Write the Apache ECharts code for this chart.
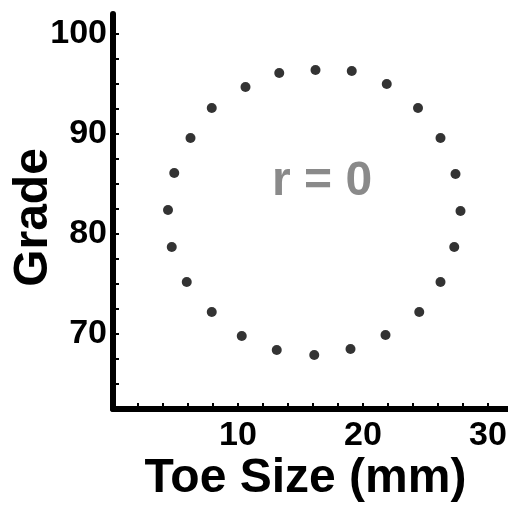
<!DOCTYPE html>
<html>
<head>
<meta charset="utf-8">
<script src="https://cdn.jsdelivr.net/npm/echarts@6/dist/echarts.min.js"></script>
<style>html,body{margin:0;padding:0;background:#fff;}#c{width:508px;height:512px;}</style>
</head>
<body>
<div id="c"></div>
<script>
var toeSize = [13.3, 16.2, 19.1, 21.9, 24.4, 26.2, 27.4, 27.8, 27.3, 26.2, 24.5, 21.8,
               19.0, 16.1, 13.1, 10.3, 7.9, 5.9, 4.7, 4.4, 4.9, 6.2, 7.9, 10.6];
var grade = [96.1, 96.4, 96.3, 95.0, 92.6, 89.6, 86.0, 82.3, 78.7, 75.2, 72.2, 69.9,
             68.5, 67.9, 68.4, 69.8, 72.2, 75.2, 78.7, 82.4, 86.1, 89.6, 92.6, 94.7];
var xTicks = [2, 4, 6, 8, 10, 12, 14, 16, 18, 20, 22, 24, 26, 28, 30];
var xLabels = [10, 20, 30];
var yTicks = [65, 67.5, 70, 72.5, 75, 77.5, 80, 82.5, 85, 87.5, 90, 92.5, 95, 97.5, 100];
var yLabels = [70, 80, 90, 100];
var annotation = 'r = 0';

var points = toeSize.map(function (x, i) { return [x, grade[i]]; });
var font = 'Liberation Sans';
var chart = echarts.init(document.getElementById('c'), null, {renderer: 'canvas'});
chart.setOption({
  animation: false,
  backgroundColor: '#fff',
  grid: {left: 113, top: 14, width: 395, height: 395, containLabel: false, outerBoundsMode: 'none'},
  xAxis: {
    type: 'value', min: 0, max: 31.6,
    name: 'Toe Size (mm)', nameLocation: 'middle', nameGap: 46, nameMoveOverlap: false,
    nameTextStyle: {fontFamily: font, fontWeight: 'bold', fontSize: 48, color: '#000', padding: [0, 10, 0, 0]},
    axisLine: {show: true, lineStyle: {color: '#000', width: 6}},
    axisTick: {show: true, inside: true, length: 6, customValues: xTicks, lineStyle: {color: '#000', width: 2}},
    axisLabel: {customValues: xLabels, fontFamily: font, fontWeight: 'bold', fontSize: 34, color: '#000', margin: 10},
    splitLine: {show: false}
  },
  yAxis: {
    type: 'value', min: 62.5, max: 102,
    name: 'Grade', nameLocation: 'middle', nameGap: 55, nameRotate: 90, nameMoveOverlap: false,
    nameTextStyle: {fontFamily: font, fontWeight: 'bold', fontSize: 48, color: '#000', padding: [0, 12, 0, 0]},
    axisLine: {show: true, lineStyle: {color: '#000', width: 6}},
    axisTick: {show: true, inside: true, length: 6, customValues: yTicks, lineStyle: {color: '#000', width: 2}},
    axisLabel: {customValues: yLabels, fontFamily: font, fontWeight: 'bold', fontSize: 34, color: '#000', margin: 6},
    splitLine: {show: false}
  },
  series: [{
    type: 'scatter', data: points, symbol: 'circle', symbolSize: 10,
    itemStyle: {color: '#000'}
  }],
  graphic: [{
    type: 'text', left: 272, top: 158,
    style: {text: annotation, font: 'bold 48px "Liberation Sans"', fill: '#8a8a8a'}
  }]
});
</script>
</body>
</html>
